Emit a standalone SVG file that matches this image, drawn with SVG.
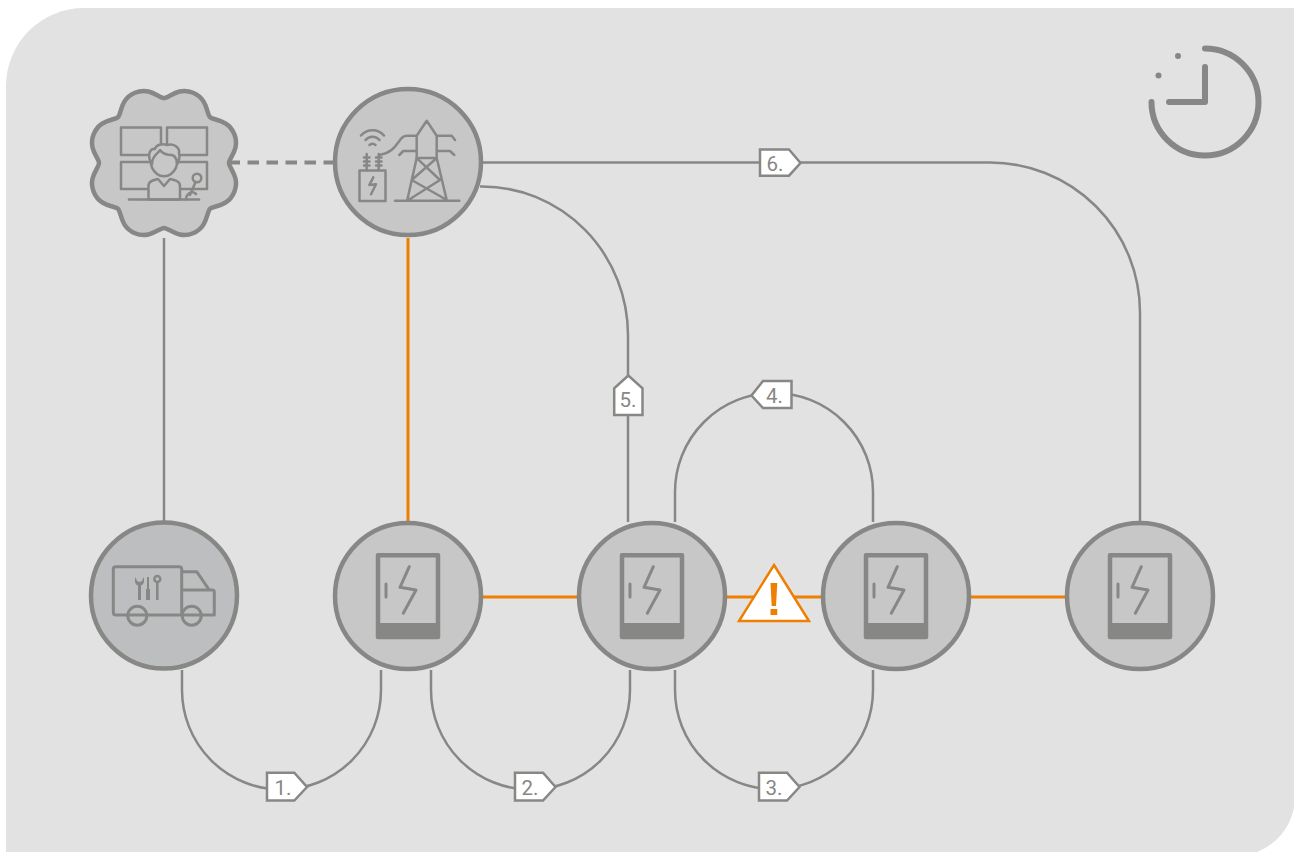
<svg xmlns="http://www.w3.org/2000/svg" width="1294" height="852" viewBox="0 0 1294 852">
<style>
text{font-family:"Roboto","Liberation Sans",sans-serif;font-size:20.5px;fill:#878786}
.c{fill:none;stroke:#878786;stroke-width:2.5}
.d{fill:none;stroke:#878786;stroke-width:4;stroke-dasharray:11.5 7.5}
.o{fill:none;stroke:#ee7f00;stroke-width:3}
.n{fill:#c6c7c6;stroke:#878786;stroke-width:4.5}
.s{fill:#bdbebf}
.i{fill:none;stroke:#878786;stroke-width:2.5;stroke-linecap:round;stroke-linejoin:round}
.b{fill:#c6c7c6}
.w{stroke-width:3}
.t{fill:#fff;stroke:#878786;stroke-width:2.5}
.k{fill:none;stroke:#878786;stroke-width:6;stroke-linecap:round;stroke-linejoin:round}
.g{fill:#878786}
</style>
<defs>
<g id="sub">
<path d="M-30-40.800H30V41H-30Z" fill="none" stroke="#878786" stroke-width="4.500" stroke-linejoin="round"/>
<rect x="-32" y="27" width="64" height="15" rx="1.500" fill="#878786"/>
<path d="M1.300-29.300L-8-8.700L8-6L-4.700 17.300" class="i w"/>
<path d="M-22-12V1" class="i w"/>
</g>
</defs>
<path id="panel" d="M1294 8H84A78 78 0 0 0 6 86V852H1257A60 60 0 0 0 1294 808Z" fill="#e2e2e2"/>
<g id="connectors">
<path class="c" d="M164 238V522"/>
<path class="d" d="M228.500 162.500H334"/>
<path class="o" d="M408 238V522"/>
<path class="o" d="M483 597H578M727 597H822M971 597H1066"/>
<path class="c" d="M182 670V690A99.500 99.500 0 0 0 381 690V670"/>
<path class="c" d="M431 670V690A99.500 99.500 0 0 0 630 690V670"/>
<path class="c" d="M675 670V690A99 99 0 0 0 873 690V670"/>
<path class="c" d="M675 522V492A99 99 0 0 1 873 492V522"/>
<path class="c" d="M480 186.500H482A146 149 0 0 1 628 335V522"/>
<path class="c" d="M483 162.500H990A150 150 0 0 1 1140 312V522"/>
</g>
<g id="node-control">
<path class="n" d="M164 98C169 98 178.300 86.670 193.080 92.790C207.860 98.910 206.420 113.500 209.960 117.040C213.500 120.580 228.090 119.140 234.210 133.920C240.330 148.700 229 158 229 163C229 168 240.330 177.300 234.210 192.080C228.090 206.860 213.500 205.420 209.960 208.960C206.420 212.500 207.860 227.090 193.080 233.210C178.300 239.330 169 228 164 228C159 228 149.700 239.330 134.920 233.210C120.140 227.090 121.580 212.500 118.040 208.960C114.500 205.420 99.910 206.860 93.790 192.080C87.670 177.300 99 168 99 163C99 158 87.670 148.700 93.790 133.920C99.910 119.140 114.500 120.580 118.040 117.040C121.580 113.500 120.140 98.910 134.920 92.790C149.700 86.670 159 98 164 98Z"/>
<path class="i" d="M121 127.500H161V155H121ZM167 127.500H207V155H167ZM121 162H207V189H121Z"/>
<path class="i b" d="M148.500 199.500V185C149 181 153 180 158 179L164 186L170 179C175 180 180 181 180 186V199.500Z"/>
<path class="i b" d="M151 161C150 154 152 151 154 149C158 148 170 148 175 150C177 153 178 157 177 161C178 165 175 171 171 174C167 177 161 177 157 174C153 171 150 165 151 161Z"/>
<path class="i b" d="M152 164C147 157 149 148 155 149C156 145 162 143 167 145C173 143 180 147 179 153C180 157 179 161 177 164C177 158 175 156 172 155C167 155 162 153 160 150C158 154 152 155 152 164Z"/>
<path class="i" d="M129 199.500H199"/>
<circle class="i b" cx="197" cy="178" r="4.300"/>
<path class="i" d="M195.500 182L190 195M186 199.500C186 194 192 190 196 194"/>
</g>
<g id="node-grid">
<circle class="n" cx="408" cy="162" r="73"/>
<path class="i" d="M361 135.500C367 128.500 378 128.500 384 135.500M365.500 140C369 135.500 376 135.500 379.500 140M369.500 145Q372.500 142.500 375.500 145"/>
<rect class="i" x="359.500" y="170.500" width="26" height="30.500"/>
<path class="i" d="M373.300 177.300L369.300 185L376 184.300L371 194.300"/>
<path class="i" d="M366.700 154V170M378.700 154V170M364 157.500H369.500M364 161.500H369.500M364 165.500H369.500M376 157.500H381.500M376 161.500H381.500M376 165.500H381.500"/>
<path class="i" d="M379.500 155C391 153 395 147 399 141.500C401 138 403 135.700 407 135.700H416.700M416.700 135.700V158H436.700V135.700L426.700 120.700ZM436.700 135.700H451.700L455 140M416.700 151H403.300L399.300 155M436.700 151H450L454.300 155"/>
<path class="i" d="M416.700 158L407.300 200M436.700 158L446.700 200M395 200.700H459.300M417 158.300L440 180L410 199M436.500 158.300L411.700 180L445 199"/>
</g>
<g id="node-service">
<circle class="n s" cx="164" cy="595.500" r="73"/>
<path class="i w" d="M116 566.700H179C181 566.700 181.700 567.700 181.700 569V615H116C114 615 113.300 614 113.300 612V569C113.300 567.700 114 566.700 116 566.700ZM183 571.700H196.700L209.300 590M183 590H212.500C213.500 590 214.300 591 214.300 592V615H181.700"/>
<circle class="i w s" cx="137.300" cy="615.700" r="9.500"/>
<circle class="i w s" cx="191.700" cy="615.700" r="9.500"/>
<path class="g" d="M135.500 577C133.800 582 136 585 138 585.500V600H141V585.500C143 585 145.200 582 143.500 577L142 581L139.500 582L137 581Z"/>
<path class="g" d="M147 577H149V589H150V600H146V589H147Z"/>
<circle class="i" cx="157.300" cy="579" r="3"/>
<path class="g" d="M156 582H158.600V600H156Z"/>
</g>
<g id="node-sub1"><circle class="n" cx="408" cy="596" r="73"/><use href="#sub" x="408" y="596"/></g>
<g id="node-sub2"><circle class="n" cx="652" cy="596" r="73"/><use href="#sub" x="652" y="596"/></g>
<g id="node-sub3"><circle class="n" cx="896" cy="596" r="73"/><use href="#sub" x="896" y="596"/></g>
<g id="node-sub4"><circle class="n" cx="1140" cy="596" r="73"/><use href="#sub" x="1140" y="596"/></g>
<g id="warning">
<path d="M774 565L809 621H739Z" fill="#fff" stroke="#ee7f00" stroke-width="2.500"/>
<path d="M770.500 583H777.300L776 606H771.700ZM770.500 609H777.300V615H770.500Z" fill="#ee7f00"/>
</g>
<g id="clock">
<path class="k" d="M1205 48.500A53.500 53.500 0 1 1 1151.500 102"/>
<path class="k" d="M1205 67V102H1169"/>
<circle class="g" cx="1178" cy="56" r="3"/>
<circle class="g" cx="1158.500" cy="75.500" r="3"/>
</g>
<g id="tag-1"><path class="t" d="M267 772.700H294.300L307 787L294.300 800.500H267Z"/><text x="274.500" y="795">1.</text></g>
<g id="tag-2"><path class="t" d="M515 772.700H543L555.500 787L543 800.500H515Z"/><text x="521.500" y="795">2.</text></g>
<g id="tag-3"><path class="t" d="M759 772.700H787L799.500 787L787 800.500H759Z"/><text x="765.500" y="795">3.</text></g>
<g id="tag-4"><path class="t" d="M791.500 381H763L751.500 395.500L763 408H791.500Z"/><text x="766" y="402.500">4.</text></g>
<g id="tag-5"><path class="t" d="M614.200 415V388.300L628.300 375.500L642.500 388.300V415Z"/><text x="619.500" y="407">5.</text></g>
<g id="tag-6"><path class="t" d="M760 149.500H789L800.500 163L789 175.700H760Z"/><text x="766.500" y="170.500">6.</text></g>
</svg>
